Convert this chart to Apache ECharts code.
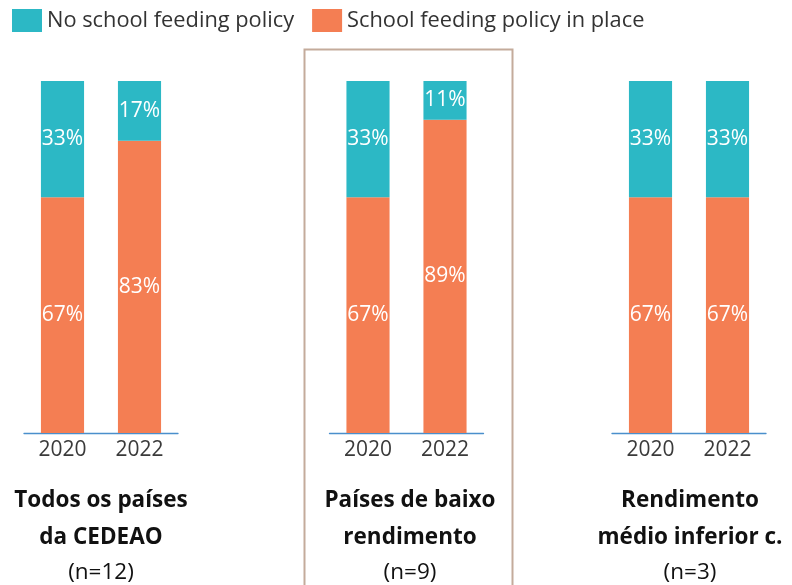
<!DOCTYPE html>
<html><head><meta charset="utf-8">
<script src="https://cdn.jsdelivr.net/npm/echarts@6/dist/echarts.min.js"></script>
<style>html,body{margin:0;padding:0;background:#fff}#c{width:792px;height:585px}</style>
</head><body><div id="c"></div>
<script>
const years = ['2020', '2022'];
const groupTitles = [['Todos os países', 'da CEDEAO', '(n=12)'], ['Países de baixo', 'rendimento', '(n=9)'], ['Rendimento', 'médio inferior c.', '(n=3)']];
const noPolicy = [[33, 17], [33, 11], [33, 33]];
const policy = [[67, 83], [67, 89], [67, 67]];
const seriesNames = ['No school feeding policy', 'School feeding policy in place'];

const TEAL = '#2cb8c5', ORANGE = '#f47e53';
const FONT = '"Open Sans", "Noto Sans", sans-serif';
const gridLefts = [24, 329.5, 612];
const centers = [101, 410, 690];
const lineCenters = [501, 538, 573];

const chart = echarts.init(document.getElementById('c'));
const grids = [], xAxes = [], yAxes = [], series = [], titles = [];
gridLefts.forEach((l, i) => {
  grids.push({left: l, top: 81, width: 154, height: 352});
  xAxes.push({type: 'category', gridIndex: i, data: years,
    axisLine: {lineStyle: {color: '#4a8fcc', width: 1.3}}, axisTick: {show: false},
    axisLabel: {fontSize: 21, color: '#3a3a3a', margin: 7, fontFamily: FONT}});
  yAxes.push({type: 'value', gridIndex: i, min: 0, max: 100, show: false, splitLine: {show: false}});
  const lbl = {show: true, position: 'inside', color: '#fff', fontSize: 21, fontFamily: FONT, formatter: p => p.value + '%'};
  series.push({name: seriesNames[1], type: 'bar', stack: 's' + i, xAxisIndex: i, yAxisIndex: i, data: policy[i], barWidth: '56%', itemStyle: {color: ORANGE}, label: lbl});
  series.push({name: seriesNames[0], type: 'bar', stack: 's' + i, xAxisIndex: i, yAxisIndex: i, data: noPolicy[i], barWidth: '56%', itemStyle: {color: TEAL}, label: lbl});
  groupTitles[i].forEach((t, k) => {
    titles.push({text: t, left: centers[i], top: lineCenters[k] - 15, textAlign: 'center', padding: 0,
      textStyle: {fontSize: 22.5, fontWeight: k < 2 ? 'bold' : 'normal', color: '#111', fontFamily: FONT, lineHeight: 30}});
  });
});

chart.setOption({
  animation: false,
  color: [TEAL, ORANGE],
  title: titles,
  legend: {left: 7, top: 4, itemWidth: 30, itemHeight: 23, itemGap: 18, icon: 'rect',
    data: seriesNames, textStyle: {fontSize: 21.8, color: '#333', fontFamily: FONT}},
  grid: grids, xAxis: xAxes, yAxis: yAxes, series: series,
  graphic: [{type: 'rect', shape: {x: 304.5, y: 49.5, width: 208, height: 560},
    style: {fill: 'none', stroke: '#c4ab9b', lineWidth: 2}, z: -1}]
});
</script></body></html>
